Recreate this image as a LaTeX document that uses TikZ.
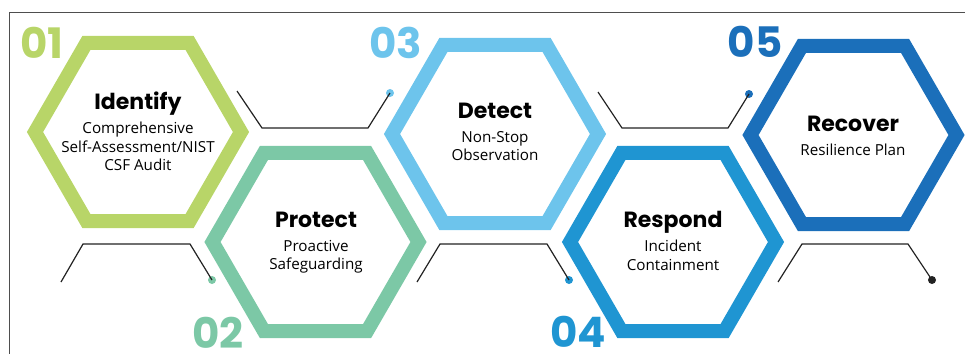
\documentclass[tikz,border=0pt]{standalone}
\usepackage{fontspec}
\setmainfont{Open Sans}
\newfontfamily\headfont{Poppins}
\definecolor{cidentify}{HTML}{B8D568}
\definecolor{cprotect}{HTML}{7CC8A6}
\definecolor{cdetect}{HTML}{6DC4EC}
\definecolor{crespond}{HTML}{1F95D2}
\definecolor{crecover}{HTML}{1B6FBA}
\definecolor{cline}{HTML}{222222}
\tikzset{
  hex/.style={line width=14pt, line join=miter},
  num/.style={font=\headfont\bfseries\fontsize{42}{42}\selectfont, inner sep=0pt, anchor=base},
  title/.style={font=\headfont\bfseries\fontsize{22}{22}\selectfont, inner sep=0pt, anchor=base},
  sub/.style={font=\fontsize{15.2}{18.5}\selectfont, align=center, inner sep=0pt, anchor=north},
  link/.style={cline, line width=1.2pt},
  dot/.style={circle, inner sep=0pt, minimum size=8pt}
}
\begin{document}
\begin{tikzpicture}[x=1pt,y=1pt]
            \useasboundingbox (0,0) rectangle (965,-354);
            \draw [cline!80, line width=1pt] (965,-12) -- (9,-12) -- (9,-354);
            % hexagons
            \draw [hex, cidentify] (138,-132) +(0:103) -- +(60:103) -- +(120:103) -- +(180:103) -- +(240:103) -- +(300:103) -- cycle;
            \draw [hex, cprotect] (315.5,-242) +(0:103) -- +(60:103) -- +(120:103) -- +(180:103) -- +(240:103) -- +(300:103) -- cycle;
            \draw [hex, cdetect] (495,-134) +(0:103) -- +(60:103) -- +(120:103) -- +(180:103) -- +(240:103) -- +(300:103) -- cycle;
            \draw [hex, crespond] (673,-242) +(0:103) -- +(60:103) -- +(120:103) -- +(180:103) -- +(240:103) -- +(300:103) -- cycle;
            \draw [hex, crecover] (853.5,-135) +(0:103) -- +(60:103) -- +(120:103) -- +(180:103) -- +(240:103) -- +(300:103) -- cycle;
            % numbers
            \node [num, cidentify] (n1) at (42,-58) {01};
            \node [num, cprotect] (n2) at (218,-348) {02};
            \node [num, cdetect] (n3) at (396,-58) {03};
            \node [num, crespond] (n4) at (578,-347) {04};
            \node [num, crecover] (n5) at (755,-57) {05};
            % texts
            \node [title] (identify) at (138,-109) {Identify};
            \node [sub] (identifytxt) at (138,-122) {Comprehensive\\Self-Assessment/NIST\\CSF Audit};
            \node [title] (protect) at (316,-227) {Protect};
            \node [sub] (protecttxt) at (316,-240) {Proactive\\Safeguarding};
            \node [title] (detect) at (495,-118) {Detect};
            \node [sub] (detecttxt) at (495,-131) {Non-Stop\\Observation};
            \node [title] (respond) at (673,-227) {Respond};
            \node [sub] (respondtxt) at (673,-240) {Incident\\Containment};
            \node [title] (recover) at (853,-131) {Recover};
            \node [sub] (recovertxt) at (853,-144) {Resilience Plan};
            % connectors
            \node [dot, fill=cdetect] (d3) at (390,-93) {};
            \node [dot, fill=crecover] (d5) at (749,-94) {};
            \node [dot, fill=cprotect] (d2) at (212,-280) {};
            \node [dot, fill=crespond] (d4) at (569,-280) {};
            \node [dot, fill=cline] (d6) at (932,-280) {};
            \coordinate (t1) at (237,-91);
            \coordinate (t2) at (598,-92);
            \coordinate (b1) at (61,-282);
            \coordinate (b2) at (417,-282);
            \coordinate (b3) at (778,-282);
            \draw [link] (t1) -- ++(25,-37) -- ++(106,0) -- (d3.center);
            \draw [link] (t2) -- ++(24,-36) -- ++(106,0) -- (d5.center);
            \draw [link] (b1) -- ++(22,38) -- ++(107,0) -- (d2.center);
            \draw [link] (b2) -- ++(23,38) -- ++(107,0) -- (d4.center);
            \draw [link] (b3) -- ++(24,38) -- ++(106,0) -- (d6.center);
        \end{tikzpicture}
\end{document}
